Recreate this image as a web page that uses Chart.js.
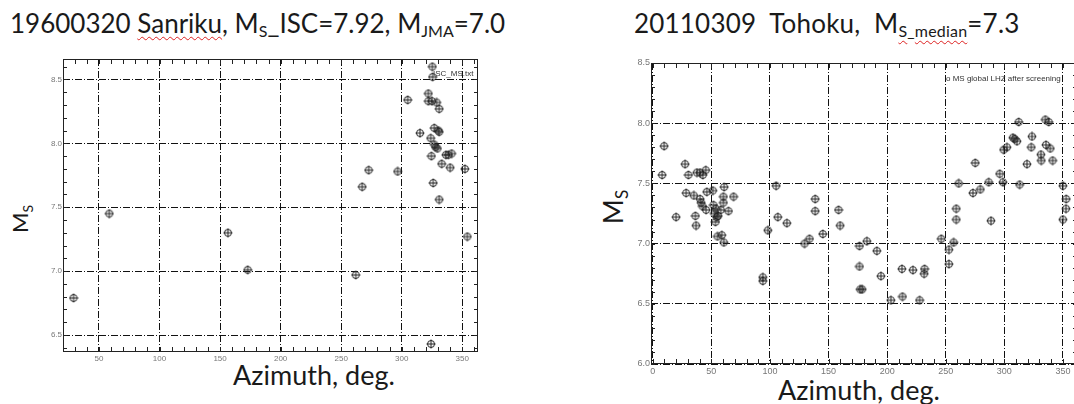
<!DOCTYPE html>
<html>
<head>
<meta charset="utf-8">
<script src="https://cdn.jsdelivr.net/npm/chart.js@4.4.1/dist/chart.umd.min.js"></script>
<style>
    body { margin: 0; width: 1074px; height: 404px; overflow: hidden; background: #fff; position: relative; font-family: Lato, "Open Sans", sans-serif; color: #1a1a1a; }
    canvas { position: absolute; }
    .ttl { position: absolute; font-size: 26px; line-height: 26px; white-space: pre; }
    .ttl sub { font-size: 16px; vertical-align: -4px; line-height: 0; }
    .axt { position: absolute; font-size: 27px; line-height: 27px; white-space: pre; }
    .sq { text-decoration: underline wavy #d22; text-decoration-thickness: 1px; text-underline-offset: 3px; }
    .ytl { position: absolute; white-space: pre; transform: translate(-50%, -50%) rotate(-90deg); }
    .ytl sub { vertical-align: -5px; line-height: 0; }
</style>
</head>
<body>
<div class="ttl" style="left:10px;top:10px">19600320 <span class="sq">Sanriku</span>, M<sub>S</sub>_ISC=7.92, M<sub>JMA</sub>=7.0</div>
<div class="ttl" style="left:634px;top:10px;letter-spacing:0.2px">20110309  Tohoku,  M<sub><span class="sq">S</span>_<span class="sq">median</span></sub>=7.3</div>
<div class="axt" style="left:233px;top:361px">Azimuth, deg.</div>
<div class="axt" style="left:778px;top:376px">Azimuth, deg.</div>
<div class="ytl" style="left:19px;top:219px;font-size:22px">M<sub style="font-size:14px">S</sub></div>
<div class="ytl" style="left:612px;top:207px;font-size:27px">M<sub style="font-size:17px">S</sub></div>
<canvas id="left" width="500" height="330" style="left:0;top:40px"></canvas>
<canvas id="right" width="530" height="350" style="left:560px;top:40px"></canvas>
<script>
// 1960-03-20 Sanriku, ISC stations
const sanrikuAz = [29, 58.5, 156.5, 172.8, 262, 267.4, 272.7, 296.6, 304.9, 315.1, 325.3, 325.5, 322, 322, 325, 328.8, 331, 326.9, 330.2, 331, 323.9, 327, 328, 329.5, 324.5, 336.5, 338.5, 341.2, 333, 340, 352.2, 326, 331, 354.2, 324.2];
const sanrikuMs = [6.79, 7.45, 7.30, 7.01, 6.97, 7.66, 7.79, 7.78, 8.34, 8.08, 8.60, 8.52, 8.39, 8.33, 8.33, 8.32, 8.27, 8.12, 8.10, 8.09, 8.04, 7.99, 7.97, 7.96, 7.90, 7.91, 7.91, 7.92, 7.84, 7.81, 7.80, 7.69, 7.56, 7.27, 6.43];

// 2011-03-09 Tohoku, global LHZ after screening
const tohokuAz = [9.7, 8, 27.6, 30.4, 37.6, 40.4, 42.7, 45.2, 28.5, 35, 40.4, 41.3, 42.4, 45.5, 46.1, 51.2, 19.9, 36.4, 37, 51.8, 52.6, 53.8, 54.6, 53.5, 55.8, 58, 60.3, 60.9, 60.3, 64.6, 68.9, 55.2, 58.9, 60.6, 93.9, 93.9, 98.2, 105.3, 106.7, 114.4, 129.5, 133.7, 138.6, 138.6, 145.1, 158.5, 159.9, 176.4, 182.7, 176.4, 177, 178.7, 191.2, 194.7, 203.2, 212.6, 213.1, 222, 227.7, 231.9, 231.6, 246.2, 252.7, 252.7, 256.7, 259, 259, 261, 273.2, 275.2, 279.5, 286.6, 288.6, 296, 298.8, 299.4, 302.2, 307.3, 308.8, 310.8, 312.2, 313, 319.3, 323.6, 323, 331.2, 331.5, 335.5, 339.2, 341.2, 335, 337.8, 350, 352.8, 352.6, 350];
const tohokuMs = [7.81, 7.57, 7.66, 7.57, 7.59, 7.59, 7.57, 7.61, 7.42, 7.40, 7.37, 7.34, 7.31, 7.28, 7.43, 7.44, 7.22, 7.23, 7.15, 7.32, 7.25, 7.29, 7.22, 7.18, 7.23, 7.28, 7.34, 7.47, 7.39, 7.27, 7.39, 7.06, 7.07, 7.01, 6.72, 6.69, 7.11, 7.48, 7.22, 7.17, 7.00, 7.04, 7.37, 7.27, 7.08, 7.28, 7.15, 6.98, 7.02, 6.81, 6.62, 6.62, 6.94, 6.73, 6.53, 6.79, 6.56, 6.78, 6.53, 6.79, 6.75, 7.04, 6.95, 6.83, 7.01, 7.29, 7.20, 7.50, 7.42, 7.67, 7.45, 7.51, 7.19, 7.58, 7.51, 7.78, 7.80, 7.88, 7.87, 7.85, 8.01, 7.49, 7.66, 7.89, 7.80, 7.74, 7.69, 7.82, 7.79, 7.69, 8.03, 8.01, 7.48, 7.37, 7.29, 7.20];

const leftXTicks = [50, 100, 150, 200, 250, 300, 350];
const leftYTicks = [6.5, 7.0, 7.5, 8.0, 8.5];
const rightXTicks = [0, 50, 100, 150, 200, 250, 300, 350];
const rightYTicks = [6.0, 6.5, 7.0, 7.5, 8.0, 8.5];

function makeMarker() {
    const c = document.createElement('canvas');
    c.width = 10; c.height = 10;
    const g = c.getContext('2d');
    g.strokeStyle = '#222';
    g.lineWidth = 1;
    g.beginPath();
    g.arc(5, 5, 3.5, 0, Math.PI * 2);
    g.stroke();
    g.beginPath();
    g.moveTo(5, 0.5); g.lineTo(5, 9.5);
    g.moveTo(0.5, 5); g.lineTo(9.5, 5);
    g.stroke();
    return c;
}

// box round the plot, small ticks every 10 deg and every 0.1
const framePlugin = {
    id: 'frame',
    beforeDatasetsDraw(chart) {
        const ctx = chart.ctx;
        const a = chart.chartArea;
        const x = chart.scales.x, y = chart.scales.y;
        ctx.save();
        ctx.strokeStyle = '#222';
        ctx.lineWidth = 1;
        ctx.strokeRect(Math.round(a.left) + 0.5, Math.round(a.top) + 0.5, Math.round(a.width) - 1, Math.round(a.height) - 1);
        ctx.beginPath();
        for (let v = Math.ceil(x.min / 10) * 10; v <= x.max; v += 10) {
            const px = Math.round(x.getPixelForValue(v)) + 0.5;
            ctx.moveTo(px, a.top); ctx.lineTo(px, a.top + 5);
            ctx.moveTo(px, a.bottom); ctx.lineTo(px, a.bottom - 5);
        }
        for (let k = Math.ceil(y.min * 10); k <= y.max * 10; k++) {
            const py = Math.round(y.getPixelForValue(k / 10)) + 0.5;
            ctx.moveTo(a.left, py); ctx.lineTo(a.left + 4, py);
            ctx.moveTo(a.right, py); ctx.lineTo(a.right - 4, py);
        }
        ctx.stroke();
        ctx.restore();
    },
    afterDraw(chart, args, opts) {
        const ctx = chart.ctx;
        ctx.save();
        ctx.fillStyle = '#333';
        ctx.font = '8px "Liberation Sans Narrow", "Liberation Sans", sans-serif';
        ctx.textBaseline = 'middle';
        ctx.fillText(opts.text, opts.x, opts.y);
        ctx.restore();
    }
};

function drawChart(id, az, ms, cfg) {
    const points = az.map(function(v, i) { return { x: v, y: ms[i] }; });
    const tickFont = { family: '"Liberation Sans Narrow", "Liberation Sans", sans-serif', size: cfg.tickSize };
    const dash = [7, 2, 1, 2];
    return new Chart(document.getElementById(id), {
        type: 'scatter',
        data: {
            datasets: [{
                data: points,
                pointStyle: makeMarker(),
                pointRadius: 4,
                pointHoverRadius: 4
            }]
        },
        plugins: [framePlugin],
        options: {
            responsive: false,
            devicePixelRatio: 1,
            animation: false,
            layout: { padding: cfg.padding },
            plugins: {
                legend: { display: false },
                tooltip: { enabled: false },
                frame: cfg.note
            },
            scales: {
                x: {
                    type: 'linear',
                    min: cfg.xMin,
                    max: cfg.xMax,
                    afterBuildTicks: function(scale) { scale.ticks = cfg.xTicks.map(function(v) { return { value: v }; }); },
                    afterFit: function(scale) { scale.height = 12; },
                    grid: { color: '#111', lineWidth: 1, drawTicks: false },
                    border: { display: false, dash: dash },
                    ticks: { color: '#777', font: tickFont, padding: 2, maxRotation: 0, autoSkip: false }
                },
                y: {
                    type: 'linear',
                    min: cfg.yMin,
                    max: cfg.yMax,
                    afterBuildTicks: function(scale) { scale.ticks = cfg.yTicks.map(function(v) { return { value: v }; }); },
                    afterFit: function(scale) { scale.width = 20; },
                    grid: { color: '#111', lineWidth: 1, drawTicks: false },
                    border: { display: false, dash: dash },
                    ticks: {
                        color: '#777', font: tickFont, padding: 1, autoSkip: false,
                        callback: function(v) { return Number(v).toFixed(1); }
                    }
                }
            }
        }
    });
}

drawChart('left', sanrikuAz, sanrikuMs, {
    xMin: 20.3, xMax: 363, yMin: 6.367, yMax: 8.66,
    xTicks: leftXTicks, yTicks: leftYTicks, tickSize: 8,
    padding: { left: 43, top: 19, right: 22, bottom: 6 },
    note: { text: 'ISC_MS.txt', x: 433, y: 34 }
});

drawChart('right', tohokuAz, tohokuMs, {
    xMin: -1.5, xMax: 362, yMin: 6.0, yMax: 8.5,
    xTicks: rightXTicks, yTicks: rightYTicks, tickSize: 9,
    padding: { left: 71, top: 23, right: 13, bottom: 14 },
    note: { text: 'o MS global LHZ after screening', x: 386, y: 39 }
});
</script>
</body>
</html>
